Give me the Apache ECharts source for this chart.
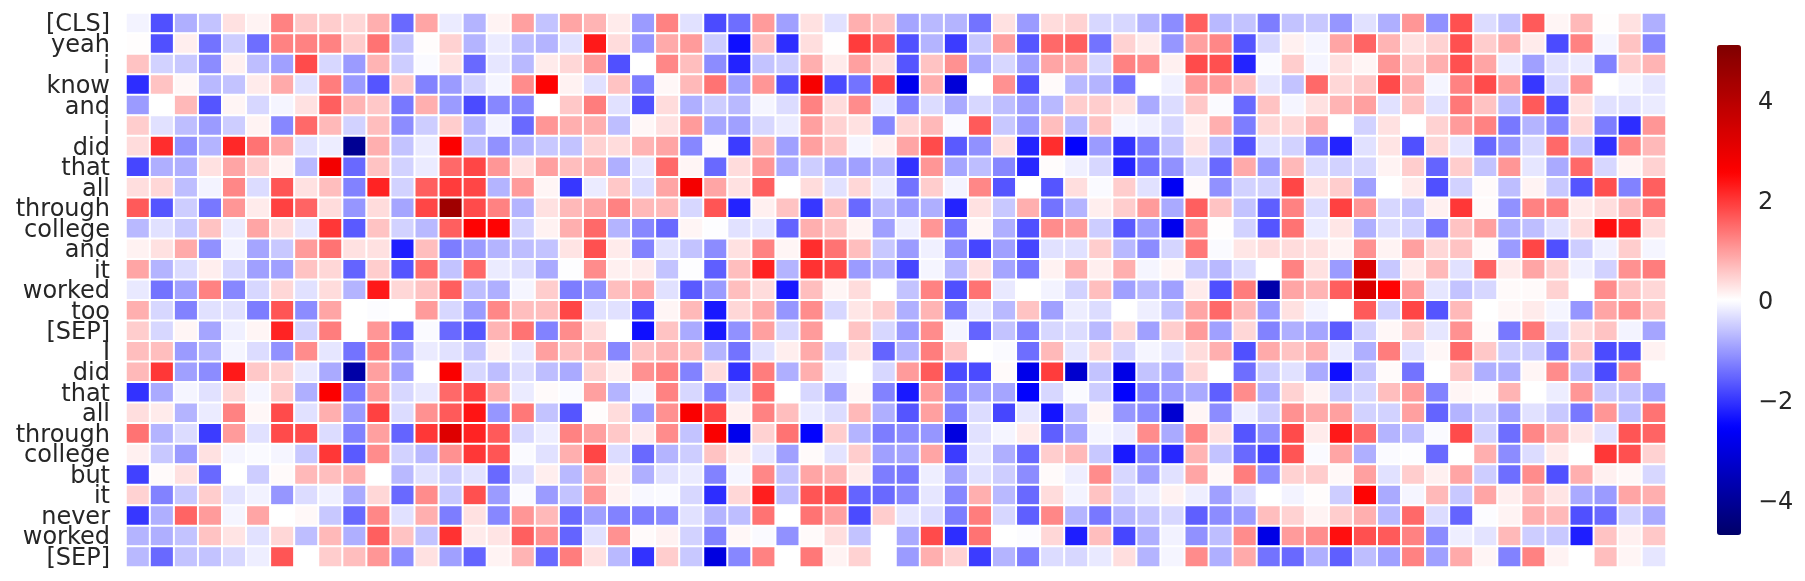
<!DOCTYPE html>
<html>
<head>
<meta charset="utf-8">
<title>heatmap</title>
<script src="https://cdn.jsdelivr.net/npm/echarts@6/dist/echarts.min.js"></script>
<style>
  html, body { margin: 0; padding: 0; background: #fff; }
  #chart { width: 1805px; height: 581px; }
</style>
</head>
<body>
<div id="chart"></div>
<script>
const tokens = ['[CLS]', 'yeah', 'i', 'know', 'and', 'i', 'did', 'that', 'all', 'through', 'college', 'and', 'it', 'worked', 'too', '[SEP]', 'I', 'did', 'that', 'all', 'through', 'college', 'but', 'it', 'never', 'worked', '[SEP]']
const colorbarTicks = [-4, -2, 0, 2, 4]
const valueMin = -4.7
const valueMax = 5.1

const row00 = [-0.12,-1.75,-0.8,-0.6,0.3,0.12,1.25,0.55,0.5,0.4,0.8,-1.5,0.9,-0.2,-0.75,0.12,
  0.95,-0.6,0.9,0.75,0.2,-1,1.25,-0.3,-1.8,-1.45,1,-0.95,0.3,-0.3,0.8,0.6,
  -0.9,-0.7,-0.75,-1.4,0.3,-1,0.35,0.45,-0.4,-0.4,-0.75,-1.15,1.6,-0.7,-0.6,-1.3,
  -0.6,-0.55,-1.05,-0.3,-0.8,1.05,-1.1,1.75,-0.35,-0.6,1.65,0.1,0.7,0.02,0.3,-0.8]
const row01 = [0.02,-1.75,0.17,-1.4,-0.5,-1.45,1.25,1.25,1.25,0.5,1.4,-0.6,0.03,0.45,-0.75,-0.2,
  -0.65,-0.75,-0.3,2.3,0.35,-1.05,0.85,1,-0.5,-2.4,0.65,-2.1,0.33,0.01,1.95,1.6,
  -1.75,-0.75,-1.95,-0.55,0.95,-1.7,1.5,1.6,-1.4,0.45,0.2,-1.05,0.95,1.2,-1.7,-0.4,
  0.15,-0.1,0.9,1.55,0.75,0.3,0.45,1.75,0.5,0.8,0.2,-1.8,1.25,-0.1,0.6,-1.2]
const row02 = [0.6,-0.45,-0.55,-1.15,0.15,-0.65,-0.95,1.8,-0.4,-1,0.75,-0.5,-0.05,0.3,-1.5,-0.25,
  -0.7,0.2,0.4,1,-1.75,0,1.2,0.65,-1.15,-2.2,-0.6,-0.5,0.8,0.2,0.95,0.35,
  -1.7,0.6,1.1,-0.85,-0.4,-0.95,0.9,0.8,-0.4,1.25,1.15,0.15,1.8,1.75,-2.2,-0.05,
  0.5,-0.1,0.3,0.1,1.05,0.55,0.8,1.75,0.9,-0.2,-0.95,-0.3,-0.2,-1.25,0.5,0.75]
const row03 = [-2.1,0.6,0.08,-0.7,-0.6,0.2,0.85,-0.3,1.3,-1,-1.7,0.55,-1.25,-1,-0.45,-0.1,
  1.15,2.55,0.13,-0.3,0.6,-1.3,0.08,0.7,1.4,-0.95,1.05,-1.75,2.7,-1.8,-1.4,1.8,
  -2.8,0.8,-3.1,0,1.1,-1.75,0.05,-0.7,-0.75,-1.4,0,-0.15,1,1,0.65,-0.25,
  -0.6,1.5,0.4,0.55,1.8,0.8,-0.1,1.25,1.8,1,-2,-0.4,1.05,0,-0.1,-0.25]
const row04 = [-1,0,0.7,-1.7,0.1,-0.4,-0.1,0.3,1.6,0.75,0.55,-1.35,0.8,-1,-1.8,-1.2,
  -1.2,0,0.55,1.3,-0.3,-1.75,0.35,-0.8,-0.5,-0.7,-0.1,-0.35,1.25,0.35,1.15,-0.2,
  -1.25,-0.35,-0.85,-0.4,-0.65,-0.95,-0.7,0.5,0.5,0.3,-0.85,-0.35,0.55,-0.05,-1.5,0.6,
  -0.1,0.3,0.75,0.95,-0.3,0.6,-0.3,1.35,0.6,-0.65,1.65,-1.8,0.3,-0.3,-0.3,-0.2]
const row05 = [0.5,-0.3,-0.65,-1,-0.5,0.12,-1.2,1.5,0.7,-0.45,0.65,-1.15,-0.5,0.5,-0.75,-0.12,
  -1.5,1.05,0.8,0.8,-0.65,0.08,0.3,1,-0.9,-0.95,-0.4,-0.2,0.95,0.45,0.3,-1.2,
  0.42,0.7,-0.05,1.65,-0.55,-1,0.65,-0.7,0.6,-0.1,-0.15,-0.4,0.15,0.8,-1.3,0.4,
  0.4,0.75,0,-0.45,0.3,0,0.45,1,1.25,-1.35,-0.75,-1.2,0.4,-1.3,-2.1,1.05]
const row06 = [0.35,2.1,-1.1,-0.75,2.15,1.4,0.85,-0.3,-0.18,-4.1,0.8,-0.6,-0.2,2.6,-0.65,-1.1,
  -0.75,-0.55,-0.6,0.45,0.35,0.75,0.9,-1.2,0.05,-1.95,0.75,-0.95,0.95,0.6,-0.1,0.15,
  0.9,1.8,-1.65,-1.1,0.33,-2.2,2.1,-2.55,-1,-2.05,-1.3,-0.6,0.27,-0.65,-1.7,-0.3,
  -0.45,-1.25,-2.2,-0.3,0.27,-1.75,0.4,-0.25,-1.5,-1.05,-0.4,1.5,-0.6,-2.05,1.2,0.7]
const row07 = [-1.85,-0.8,-0.8,0.3,0.9,0.5,0.12,-0.7,2.8,-1.5,0.6,-0.45,-0.2,1.5,1.85,1.05,
  0.3,0.95,0.65,0.8,-0.8,-0.25,1.5,0.1,-1.5,0.35,1.05,-0.85,-0.5,-0.85,-0.95,-0.75,
  -2.05,1.05,-0.9,-0.65,-1.2,-2.15,0.03,-0.15,-0.4,-2.2,-1.4,-1.1,-0.42,-1.5,0.85,-1,
  0.7,-0.35,-0.45,-0.4,0.12,0.5,-1.55,0.5,-0.6,1.05,-0.25,-0.85,1.5,-0.4,0.12,0.45]
const row08 = [0.33,0.4,-0.65,-0.12,1.2,-0.35,1.7,0.3,0.65,-1.25,2.2,-0.45,1.6,1.95,1.85,-0.75,
  1,0.1,-2,-0.2,0.55,-0.35,0.9,2.75,0.9,0.3,1.6,0,0.35,-0.3,0.4,-0.2,
  -1.4,0.5,-0.12,1.2,-1.7,0,-1.7,0.33,-0.05,0.5,-0.3,-2.7,0.05,-1.1,-0.45,-0.45,
  1.85,0.3,0.5,-0.95,0,0.2,-1.75,-0.45,0.05,-0.65,0.12,-0.55,-1.7,1.75,-1.25,1.6]
const row09 = [1.65,-1.7,-0.5,-1.35,1.05,0.2,1.9,1.55,0.35,-1.05,0.35,-0.9,1.85,4.45,1.8,1.25,
  -0.75,0.3,0.7,0.9,1.25,0.7,0.7,-0.4,1.7,-2.2,0.15,0.6,-2,0.65,-1.5,-0.7,
  -1,-0.8,-2.2,0.3,-0.55,0.8,-1.4,-0.75,0.17,0.5,1,-0.85,1.6,0.6,-0.6,-1.6,
  1.25,-0.35,1.9,1.05,-0.4,-0.6,0.15,2,0.05,-1.1,1.25,1.3,0.2,0.33,0.7,1.4]
const row10 = [-0.7,-0.3,-0.55,0.6,-0.2,0.9,0.35,-0.25,2,-1.65,0.6,-0.45,-0.7,1.6,2.55,2.55,
  -0.45,0.13,0.8,1.5,-0.75,-1.2,-1.5,0.1,-0.02,-0.3,-0.25,-1.55,0.8,0.6,0.12,-0.95,
  -0.17,1.05,-1.4,0.1,-0.8,-1.75,1.15,1,-0.5,-1.65,-1,-2.8,1.15,0.02,-0.45,-1.7,
  1.4,-0.2,0.25,-0.8,-0.35,-0.45,-1.35,0.6,0.95,-0.8,-0.65,-0.3,0.35,2.4,2.1,0.35]
const row11 = [0.13,0.3,0.85,-1.1,-0.12,-0.9,-0.55,1,1.4,0.3,0.3,-2.25,0.65,-1.3,-1,-0.75,
  -0.65,-0.6,0.27,1.75,0.2,-1.25,-0.3,-0.6,-1.15,0.3,1.25,0.1,2.1,1.4,0.65,-0.55,
  -1,-0.15,-1.1,-1.85,-0.95,-1.85,-0.3,-0.3,0.5,-0.7,-1.15,-0.42,1.35,-0.05,0.25,0.35,
  0.35,0.3,0.12,1.1,0.12,0.95,0.4,0.6,0.05,-1,1.85,-1.75,-0.5,-0.15,0.5,-0.1]
const row12 = [0.9,-0.75,-0.35,0.17,-0.4,-0.95,-0.95,0.6,0.4,-1.55,0.5,-1.7,1.45,-0.6,1.5,-0.2,
  -0.35,-0.85,-0.02,1.15,0.15,0.2,-0.6,-0.02,-1.6,0.65,2.2,-0.75,2.05,1.85,-1,-0.8,
  -1.85,-0.1,-0.7,0.3,-0.9,-1.35,0.13,0.8,0.17,0.8,-0.1,0.1,-0.55,-0.7,-0.35,0,
  1.25,0.3,-1,3.3,-0.55,0.2,0.7,-0.3,1.55,0.2,0.9,0.45,-0.15,-0.45,1.1,1.3]
const row13 = [-0.22,-1.4,-0.95,1.25,-1.2,-0.4,0.4,-0.3,0.35,-0.75,2.3,0.4,0.6,1.6,-0.65,-0.8,
  -0.1,0.5,-1.3,-1.1,0.65,0.85,-0.3,-1.65,-1,0.65,0.35,-2.3,0.65,0.1,0.35,0,
  -0.6,1.25,-1.75,1.4,-0.22,0,-0.12,-0.45,0.65,-0.95,-0.7,-0.95,0.2,-1.75,1.3,-3.75,
  0.9,0.75,1.6,3.3,2.55,1,-0.25,-0.6,-0.4,0.05,0.05,0.45,0,1.15,0.6,0.4]
const row14 = [0.8,-0.4,-1.25,-0.3,-0.3,-1.3,1.7,-1.15,0.9,0,-0.03,0,1,-0.4,-1,1.2,
  0.65,0.65,1.85,-0.3,-0.3,-1.85,0.1,0.7,-2.3,0.4,0.85,-1.05,1.15,-0.4,0.25,0.5,
  -0.8,0.75,-1.35,-0.22,-0.7,0.6,-0.95,-0.18,-0.35,0,-0.17,-0.6,0.9,1.5,0.7,-1,
  0.3,-0.12,0,1.65,-0.45,1.85,-1.7,0.7,0,0.08,0.2,-0.1,-1.05,0.9,1.1,0.6]
const row15 = [0.5,-0.4,0.1,-0.9,-0.15,0.1,2.2,-0.45,1.3,0,1.05,-1.55,-0.05,-1.5,-1.7,0.75,
  1.4,-1.25,1.15,0.35,0,-2.4,0.6,-0.85,-2.3,-1.1,0.95,-0.4,1,0,0.6,-0.4,
  -1,1.15,-0.1,-1.55,-0.6,-1.25,-0.4,-0.35,-0.7,0.4,-0.95,0.5,1,-0.95,0.4,-1.25,
  -0.8,-0.9,-1.65,-0.45,0.08,0.55,-0.25,1.1,0.05,-1.35,1.35,-0.35,0.35,0.6,-0.12,-0.9]
const row16 = [0.65,0.65,-1,-0.75,-0.1,-0.35,-1.1,1.15,-0.25,-1.4,1.3,-0.95,-0.2,-0.3,-0.6,0.15,
  -0.22,0.95,0.65,0.8,-1.2,0.6,0.75,0.65,-0.75,-1.4,-0.3,0.17,0.85,-0.45,0.27,-1.55,
  -0.75,1.3,0.6,0,-0.05,-1.45,0.7,-0.25,0.4,-0.45,-0.1,-0.28,0.35,0.8,-1.75,0.85,
  0.6,0.8,-0.2,-0.8,1.3,-0.3,0.08,1.5,0.55,-0.5,-0.5,-1.35,0.55,-1.8,-1.75,0.13]
const row17 = [0.7,2,-0.95,-1.15,2.3,0.55,0.45,-0.22,-0.85,-3.8,0.95,-0.95,0,2.65,-0.4,-0.65,
  -0.35,-0.65,-0.85,0.45,0.15,1.1,1.25,-1.25,0.35,-2.05,1.3,-0.8,0.8,-0.17,0,-0.4,
  1,1.65,-1.8,-1.8,0.05,-2.85,1.95,-3.25,-0.6,-2.9,-0.6,-0.9,0.4,0,-1.45,-0.5,
  -0.3,-0.85,-2.4,-0.6,0.05,-1.4,0,0.55,-0.8,-0.8,0.1,1.15,-0.65,-1.8,1.15,0]
const row18 = [-2.05,-0.85,-0.1,-0.3,0.4,-0.1,0.5,-0.8,2.6,-1.35,1,-0.4,-0.22,1.5,1.9,0.8,
  -0.2,0.05,-0.05,0.95,-0.75,-0.1,1.25,-0.4,-1.25,-0.4,1.45,0,-0.4,-0.95,0.08,-1.25,
  -2.3,1,-1.2,-0.9,-0.9,-2.55,-0.4,-0.05,-0.5,-2.55,-1.25,-1,-0.85,-1.6,1.15,-0.8,
  0.45,0.12,-0.55,-0.4,0.65,1,-1.25,0.1,0.05,0.75,0,-0.18,1.05,-0.55,-0.6,-0.9]
const row19 = [0.33,0.2,-0.75,-0.2,1.25,0.08,1.8,-0.3,0.8,-1,1.9,-0.35,1.1,1.65,2.35,-1.05,
  1.35,-0.6,-1.7,0.03,0.35,-1,1.1,2.65,1.85,0.15,1.25,0.65,-0.2,-0.35,0.7,-0.8,
  -1.7,0.95,-1.25,-0.35,-1.85,-0.25,-2.35,-0.65,0.1,-1.05,-1.15,-3.2,0.1,-1.15,-0.17,-0.5,
  1.1,0.85,0.95,-0.45,-0.45,0.95,-1.55,-0.75,-0.5,-0.95,-0.3,-0.55,-1.35,1.05,-0.65,1.4]
const row20 = [1.4,-0.75,-0.35,-1.95,1,-0.3,1.8,1.8,-0.35,-1.25,0.95,-1.55,2,3.2,2.2,1.65,
  -0.4,-0.17,1.25,0.95,0.55,0.2,1.15,-0.6,2.65,-2.8,0.45,1.4,-2.55,0.5,-0.75,-1.3,
  -1.15,-1.05,-3,-0.3,-0.1,0.2,-1.6,-0.9,-0.1,-0.2,1.15,-0.85,1.2,0.3,-1.7,-1.1,
  1.8,0.2,2.3,1.5,-0.75,-0.65,-0.05,1.8,-0.45,-1.45,1.2,0.8,0.25,-0.3,1.7,1.55]
const row21 = [0.15,-0.55,-1,0.3,-0.1,-0.05,-0.1,-0.55,2,-1.65,1.15,-0.45,-0.7,1.1,2,1.7,
  -0.05,-0.3,0.8,1.85,-0.35,-1.5,-0.75,-0.5,0.6,0.2,-0.25,-0.95,0.05,-0.28,0.5,-0.95,
  -0.9,0.9,-1.95,-0.25,-0.8,-1.5,0.5,0.7,-0.55,-2.3,-1.25,-2.15,0.75,-0.6,-1.5,-1.85,
  1.7,-0.05,0.9,-0.8,-0.05,-0.02,-1.5,0,0.8,-1.15,-0.35,0.2,0,2,1.75,0.45]
const row22 = [-1.9,0.05,0.3,-1.5,0,-0.5,0.05,0.7,0.65,0.8,0,-0.7,-0.3,-0.5,-0.28,-1.5,
  -0.35,0.17,-0.7,0.8,0.17,-0.8,-0.3,-0.2,-1.25,-0.1,1.2,-0.6,0.9,0.75,0.2,-1.3,
  -1.35,-0.17,-0.9,-0.3,-0.5,-1.15,0.05,-0.17,1.15,-0.4,-0.95,-0.3,0.9,0.08,1.3,-1.15,
  0.45,0.5,0.07,0.95,-0.3,0.5,0.15,0.9,-0.5,-1.45,1.15,-1.75,0.8,0.15,0.08,-0.4]
const row23 = [0.45,-1.25,-0.55,0.5,-0.28,-0.13,-1.05,-0.35,-0.15,-0.85,0.4,-1.5,1.15,-0.55,1.75,-1,
  -0.05,-1,-0.6,1.05,0.13,-0.07,-0.05,-0.4,-2.1,0.4,2.25,-0.65,1.7,1.75,-1.55,-1.5,
  -1.2,-0.25,-1.2,0.8,-0.7,-1.5,0.35,-0.12,0.6,-0.4,-0.2,0.13,-0.17,-0.95,-0.35,0,
  -0.12,0.03,-0.5,2.55,-0.85,-0.1,0.7,-0.55,0.9,0.17,0.7,0.27,-0.85,-1,0.9,0.8]
const row24 = [-2,-0.8,1.55,1,-0.1,0.9,0,0.07,-0.55,-1.5,1.2,-0.3,0.8,-1.3,0.3,-1.2,
  1.05,0.7,-1.5,-0.95,-1.25,-1.3,-1.15,-0.3,-0.75,-0.65,1.4,0,1.4,0.95,-1.8,0.5,
  -0.25,-0.35,-1.3,1.3,-0.4,-1.6,1.2,-0.75,-1.35,-0.75,-0.6,-0.4,-1.6,-1.15,-1,0.65,
  0.45,0.12,0.5,0.8,-0.7,1.5,-0.35,-1.55,-0.03,0.12,0.8,0.7,-1.75,-1.5,-0.45,-0.85]
const row25 = [-0.75,-0.8,-0.6,0.6,0.27,-0.3,0.4,-0.65,0.7,-0.8,1.6,0.6,-0.6,2.05,0.2,0.27,
  1.6,1.1,-1.55,-0.3,1.1,0.05,0.13,-0.45,-1.25,0.08,-0.05,-1.1,0.05,0.33,-0.6,0,
  -0.85,1.8,-2.1,1.4,0,-0.03,0.4,-2.25,0.65,-1.85,-0.8,-0.13,-1.1,-0.65,1.15,-2.9,
  1,1.15,2.4,1.75,1.65,1.25,-1.15,-0.17,-0.28,0.7,-0.5,-0.55,-2.25,0.6,0.15,0.55]
const row26 = [-0.7,-1.5,-0.6,-0.6,-0.4,-0.17,1.7,0,0.5,0.65,1.05,-1.15,0.3,-0.95,-1.55,0.12,
  0.75,-1.5,1.3,0.3,-0.7,-2.05,0.5,-0.55,-3,-1.2,1.25,0,1.35,0.12,0.45,0,
  -1,0.8,0.45,-1.95,-0.75,-1.3,-0.35,-0.4,-0.22,0.33,-0.75,-0.1,1.15,-0.8,0.85,-1.4,
  -1.5,-0.8,-1.6,-0.65,-0.95,1.25,-0.95,0.85,0.1,-1.25,1.25,0.12,0,0.65,0.1,-0.25]

const rows = [row00, row01, row02, row03, row04, row05, row06, row07, row08, row09, row10, row11, row12, row13,
  row14, row15, row16, row17, row18, row19, row20, row21, row22, row23, row24, row25, row26]
const columns = row00.map((_, i) => String(i))

// heatmap triples: [column, row, value]
const cells = []
rows.forEach((row, y) => row.forEach((v, x) => cells.push([x, y, v])))

// seismic colormap, centred on 0 with half range = valueMax
function seismic(v) {
  const t = v / valueMax * 2
  let r, g, b
  if (t < -1) { r = 0; g = 0; b = 0.3 + 0.7 * (t + 2) }
  else if (t < 0) { r = t + 1; g = t + 1; b = 1 }
  else if (t < 1) { r = 1; g = 1 - t; b = 1 - t }
  else { r = 1 - 0.5 * (t - 1); g = 0; b = 0 }
  return `rgb(${Math.round(r * 255)},${Math.round(g * 255)},${Math.round(b * 255)})`
}
const ramp = []
for (let i = 0; i <= 98; i++) ramp.push(seismic(valueMin + i * 0.1))

const fontFamily = '"DejaVu Sans"'
const chart = echarts.init(document.getElementById('chart'), null, { renderer: 'canvas' })
chart.setOption({
  animation: false,
  backgroundColor: '#fff',
  tooltip: { show: false },
  grid: [
    { left: 126, top: 13, width: 1540, height: 554 },
    { left: 1717, top: 45, width: 24, height: 490 }
  ],
  xAxis: [
    { type: 'category', data: columns, gridIndex: 0, show: false },
    { type: 'value', gridIndex: 1, min: 0, max: 1, show: false }
  ],
  yAxis: [
    {
      type: 'category', data: tokens, gridIndex: 0, inverse: true,
      axisLine: { show: false }, axisTick: { show: false }, splitLine: { show: false },
      // small line box pushes the text down a little, like the matplotlib baseline
      axisLabel: { interval: 0, margin: 16, verticalAlign: 'top', lineHeight: 4, color: '#262626', fontSize: 24, fontFamily }
    },
    {
      type: 'value', gridIndex: 1, position: 'right', min: valueMin, max: valueMax,
      axisLine: { show: false }, splitLine: { show: false },
      axisTick: { show: true, customValues: colorbarTicks, length: 10, lineStyle: { color: '#262626', width: 2 } },
      axisLabel: {
        customValues: colorbarTicks, margin: 17, verticalAlign: 'top', lineHeight: 6, color: '#262626', fontSize: 24, fontFamily,
        formatter: v => (v < 0 ? '\u2212' + Math.abs(v) : String(v))
      }
    }
  ],
  visualMap: {
    type: 'continuous', seriesIndex: 0, min: valueMin, max: valueMax,
    left: 1717, top: 45, padding: 0, itemWidth: 24, itemHeight: 490,
    calculable: false, hoverLink: false, text: null, borderWidth: 0,
    inRange: { color: ramp }
  },
  series: [{
    type: 'heatmap', data: cells, xAxisIndex: 0, yAxisIndex: 0,
    itemStyle: { borderColor: '#fff', borderWidth: 2 },
    emphasis: { disabled: true }
  }]
})
</script>
</body>
</html>
